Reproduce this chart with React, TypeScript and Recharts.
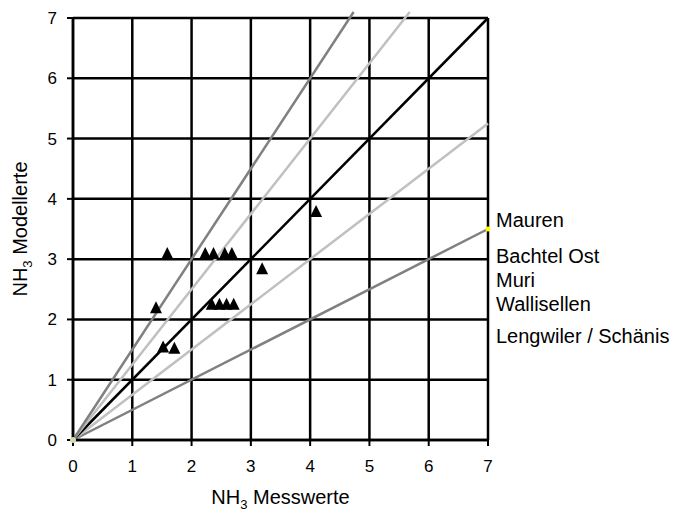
import React from "react";
import { ScatterChart, Scatter, XAxis, YAxis, CartesianGrid, ReferenceLine, ReferenceDot, Label } from "recharts";

// measured vs modelled NH3 per site
const measured = [1.4, 1.52, 1.59, 1.71, 2.23, 2.37, 2.56, 2.68, 2.34, 2.47, 2.59, 2.71, 3.19, 4.1];
const modelled = [2.2, 1.55, 3.1, 1.53, 3.1, 3.1, 3.1, 3.1, 2.26, 2.26, 2.26, 2.26, 2.85, 3.8];
const stations = ["Mauren", "Bachtel Ost", "Muri", "Wallisellen", "Lengwiler / Schänis"];
const ticks = [0, 1, 2, 3, 4, 5, 6, 7];
const factors = [0.5, 0.75, 1, 1.25, 1.5];
const factorColors = ["#808080", "#c0c0c0", "#000000", "#c0c0c0", "#808080"];

const points = measured.map((x, i) => ({ x, y: modelled[i] }));

const lineEnd = (f: number) => (f * 7 <= 7.1 ? { x: 7, y: 7 * f } : { x: 7.1 / f, y: 7.1 });

const Triangle = (props: any) => {
  const { cx, cy } = props;
  return <polygon points={`${cx - 6},${cy + 6} ${cx + 6},${cy + 6} ${cx},${cy - 6}`} fill="#000" />;
};

const XTitle = (props: any) => {
  const { viewBox } = props;
  const cx = viewBox.x + viewBox.width / 2;
  return (
    <text x={cx} y={504} textAnchor="middle" fontSize={20} fill="#000">
      NH<tspan fontSize={13} dy={5}>3</tspan>
      <tspan dy={-5}>{"\u00a0Messwerte"}</tspan>
    </text>
  );
};

const YTitle = (props: any) => {
  const { viewBox } = props;
  const cy = viewBox.y + viewBox.height / 2;
  return (
    <text x={27} y={cy} transform={`rotate(-90, 27, ${cy})`} textAnchor="middle" fontSize={20} fill="#000">
      NH<tspan fontSize={13} dy={5}>3</tspan>
      <tspan dy={-5}>{"\u00a0Modellerte"}</tspan>
    </text>
  );
};

const gaps = [0, 12, 0, 0, 8];

export default function App() {
  return (
    <div style={{ position: "absolute", left: 0, top: 0, width: 680, height: 513, fontFamily: "'Liberation Sans', Arial, sans-serif" }}>
      <ScatterChart width={680} height={513} margin={{ top: 18, right: 192, bottom: 0, left: 0 }}>
        <CartesianGrid stroke="#000" strokeWidth={2.5} />
        <XAxis
          type="number"
          dataKey="x"
          domain={[0, 7]}
          ticks={ticks}
          height={73}
          tickSize={6}
          tickMargin={14}
          tick={{ fill: "#000", fontSize: 17 }}
          axisLine={{ stroke: "#000", strokeWidth: 2.5 }}
          tickLine={{ stroke: "#000", strokeWidth: 2 }}
        >
          <Label content={XTitle} />
        </XAxis>
        <YAxis
          type="number"
          dataKey="y"
          domain={[0, 7]}
          ticks={ticks}
          width={73}
          tickSize={6}
          tickMargin={10}
          tick={{ fill: "#000", fontSize: 17 }}
          axisLine={{ stroke: "#000", strokeWidth: 2.5 }}
          tickLine={{ stroke: "#000", strokeWidth: 2 }}
        >
          <Label content={YTitle} />
        </YAxis>
        {factors.map((f, i) => (
          <ReferenceLine
            key={f}
            segment={[{ x: 0, y: 0 }, lineEnd(f)]}
            stroke={factorColors[i]}
            strokeWidth={2.5}
            ifOverflow="visible"
          />
        ))}
        <ReferenceDot x={0} y={0} r={3} fill="#d8d8b0" stroke="none" />
        <ReferenceDot x={7} y={3.5} r={2.5} fill="#ffff00" stroke="none" />
        <Scatter data={points} shape={Triangle} isAnimationActive={false} />
      </ScatterChart>
      <div style={{ position: "absolute", left: 496, top: 208, fontSize: 20, lineHeight: "24px", color: "#000", whiteSpace: "nowrap" }}>
        {stations.map((s, i) => (
          <div key={s} style={{ marginTop: gaps[i] }}>{s}</div>
        ))}
      </div>
    </div>
  );
}
